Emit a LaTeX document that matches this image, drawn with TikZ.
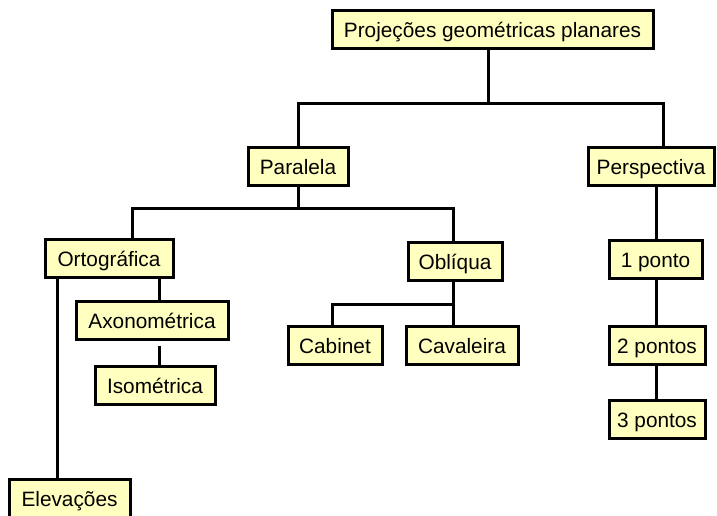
\documentclass[tikz,border=0pt]{standalone}
\usepackage{fontspec}
\setmainfont{Liberation Sans}
\definecolor{boxfill}{RGB}{255,255,192}
\begin{document}
\begin{tikzpicture}[x=1pt,y=-1pt,
  box/.style={draw=black, fill=boxfill, line width=3pt, inner sep=0pt,
    minimum height=38pt, text height=16.5pt, text depth=0pt,
    font=\fontsize{20.8}{24}\selectfont},
  conn/.style={line width=3pt}]
\useasboundingbox (0,0) rectangle (717,515);
% nodes
\node[box, minimum width=321pt] (top) at (492.5,29.5) {Projeções geométricas planares};
\node[box, minimum width=100pt] (par) at (298,166.5) {Paralela};
\node[box, minimum width=126pt] (per) at (651,166.5) {Perspectiva};
\node[box, minimum width=93pt] (p1) at (655.5,259) {1 ponto};
\node[box, minimum width=96pt] (p2) at (657,345.5) {2 pontos};
\node[box, minimum width=96pt] (p3) at (657,419.5) {3 pontos};
\node[box, minimum width=128pt] (orto) at (109,258.5) {Ortográfica};
\node[box, minimum width=152pt] (axo) at (152,320.5) {Axonométrica};
\node[box, minimum width=120pt] (iso) at (155,385) {Isométrica};
\node[box, minimum width=94pt] (obl) at (455,261) {Oblíqua};
\node[box, minimum width=94pt] (cab) at (335,345.5) {Cabinet};
\node[box, minimum width=112pt] (cav) at (462,345.5) {Cavaleira};
\node[box, minimum width=121pt] (elev) at (69.5,498.5) {Elevações};
% junction coordinates
\coordinate (J1) at (488,103);
\coordinate (J1r) at (663,103);
\coordinate (J2l) at (132,208);
\coordinate (J2r) at (453,208);
\coordinate (E) at (57,0);
\coordinate (A) at (159,0);
\coordinate (O) at (453,304);
\coordinate (Cb) at (332,304);
\coordinate (P) at (656,0);
% connectors
\draw[conn] (top.south -| J1) -- (J1);
\draw[conn] (par.north) |- (J1);
\draw[conn] (J1) -- (J1r) -- (J1r |- per.north);
\draw[conn] (par.south) -- (par.south |- J2l);
\draw[conn] (orto.north -| J2l) -- (J2l) -- (J2r) -- (obl.north -| J2r);
\draw[conn] (orto.south -| E) -- (elev.north -| E);
\draw[conn] (orto.south -| A) -- (axo.north -| A);
\draw[conn] ([yshift=-5pt]axo.south -| A) -- (iso.north -| A);
\draw[conn] (obl.south -| O) -- (cav.north -| O);
\draw[conn] (O) -- (Cb) -- (cab.north -| Cb);
\draw[conn] (per.south -| P) -- (p1.north -| P);
\draw[conn] (p1.south -| P) -- (p2.north -| P);
\draw[conn] (p2.south -| P) -- (p3.north -| P);
\end{tikzpicture}
\end{document}
